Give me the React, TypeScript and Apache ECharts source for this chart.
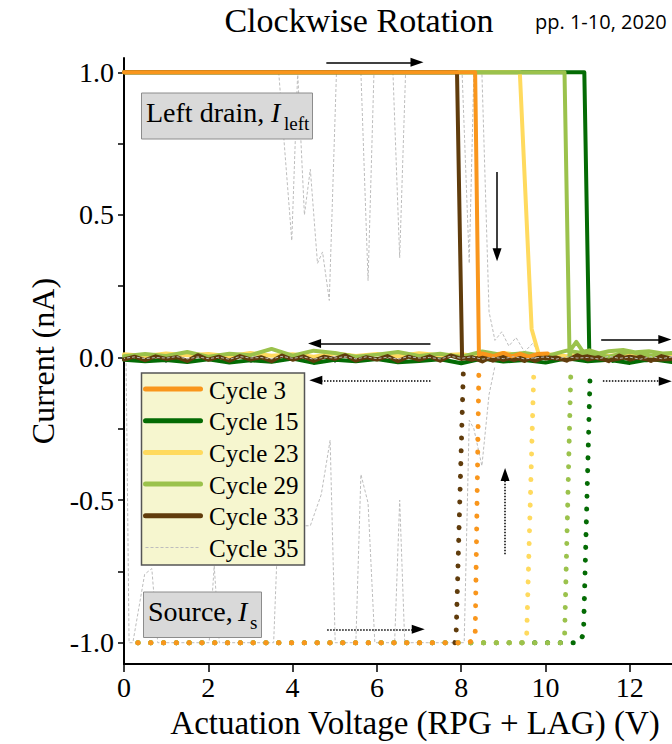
import React, { useEffect, useRef } from 'react';
import * as echarts from 'echarts';

const SERIF = "'Liberation Serif', 'Times New Roman', serif";
const SANS = "'Open Sans', 'Noto Sans', sans-serif";

// ---------- categories / legend ----------
const cycleNames = ['Cycle 3', 'Cycle 15', 'Cycle 23', 'Cycle 29', 'Cycle 33', 'Cycle 35'];
const cycleColors = ['#F9961C', '#046B04', '#FFDA5E', '#9BC24C', '#603C0C', '#BDBDBD'];

// ---------- tick labels ----------
const xMajorTicks = [0, 2, 4, 6, 8, 10, 12];
const xMinorTicks = [1, 3, 5, 7, 9, 11];
const yTicks = [-1, -0.75, -0.5, -0.25, 0, 0.25, 0.5, 0.75, 1];
const yLabels = [-1, -0.5, 0, 0.5, 1];

// sweep voltages of the return (13 V -> 0 V) scans
const returnFine = Array.from({ length: 53 }, (_, i) => 13 - 0.25 * i);
const returnCoarse = Array.from({ length: 27 }, (_, i) => 13 - 0.5 * i);

// ---------- left drain current, forward sweep (V, nA) ----------
const drain3Fwd = [[0, 1], [8.33, 1], [8.42, 0.01], [8.5, 0.014], [8.75, 0.005], [9.0, 0.016], [9.2, 0.004], [9.4, 0.013], [9.6, 0.003], [9.8, 0.012], [10.05, 0.014]];
const drain15Fwd = [[0, 1], [10.92, 1], [11.04, 0.0], [11.3, 0.008], [11.6, -0.012], [12.0, 0.006], [12.4, -0.01], [12.8, 0.003]];
const drain23Fwd = [[0, 1], [9.39, 1], [9.67, 0.1], [9.86, 0.0], [10.1, 0.01], [10.5, 0.002], [11.0, 0.012], [11.5, 0.004], [12.0, 0.011], [12.5, 0.003]];
const drain29Fwd = [[0, 1], [10.45, 1], [10.57, 0.0], [10.61, 0.03], [10.73, 0.055], [10.89, 0.02], [11.04, 0.025], [11.27, 0.014], [11.5, 0.022], [11.84, 0.026], [12.14, 0.018], [12.45, 0.022], [12.78, 0.014]];
const drain33Fwd = [[0, 1], [7.9, 1], [8.02, 0.0], [8.25, -0.008], [8.5, 0.004], [8.75, -0.011], [9.0, 0.003], [9.25, -0.009], [9.5, 0.005], [9.75, -0.012], [10.0, 0.002], [10.5, -0.009], [11.0, 0.004], [11.5, -0.011], [12.0, 0.003], [12.5, -0.009]];
const drain35Fwd = [[0, 1], [3.67, 1], [3.98, 0.41], [4.12, 1], [4.28, 0.5], [4.42, 0.66], [4.59, 0.33], [4.71, 0.37], [4.87, 0.2], [5.04, 1], [5.62, 1], [5.79, 0.27], [5.93, 1], [6.38, 1], [6.54, 0.35], [6.68, 1], [8.02, 1], [8.19, 0.33], [8.3, 1], [8.49, 1], [8.66, 0.16], [8.8, 0.06], [8.96, 0.09], [9.13, 0.04], [9.3, 0.07], [9.5, 0.02], [9.7, 0.05], [9.9, 0.0], [10.5, 0.004], [11.2, -0.003], [12.0, 0.003], [12.6, -0.002], [13, 0.002]];

// ---------- left drain current, return sweep (13 V -> 0 V) ----------
const drain15Ret = [-0.016, -0.005, -0.019, -0.008, -0.013, -0.003, -0.018, -0.009, -0.014, -0.004, -0.020, -0.006, -0.012, -0.017, -0.005, -0.013, -0.008, -0.019, -0.004, -0.015, -0.010, -0.018, -0.006, -0.016, -0.009, -0.013, -0.008];
const drain23Ret = [0.012, 0.003, 0.014, 0.005, 0.015, 0.004, 0.012, 0.006, 0.016, 0.003, 0.011, 0.008, 0.015, 0.004, 0.012, 0.005, 0.014, 0.003, 0.011, 0.006, 0.016, 0.004, 0.012, 0.008, 0.014, 0.005, 0.011];
const drain29Ret = [0.016, 0.005, 0.020, 0.003, 0.013, 0.024, 0.004, 0.016, 0.008, 0.021, 0.002, 0.013, 0.005, 0.019, 0.010, 0.003, 0.016, 0.024, 0.006, 0.030, 0.008, 0.013, 0.003, 0.019, 0.005, 0.012, 0.004];
const drain33Ret = [-0.005, 0.005, -0.012, 0.003, -0.008, 0.007, -0.013, 0.001, -0.007, 0.008, -0.011, 0.000, -0.004, 0.008, -0.012, 0.003, -0.009, 0.005, -0.014, 0.001, -0.005, 0.007, -0.011, 0.004, -0.008, 0.003, -0.013, 0.005, -0.007, 0.001, -0.011, 0.008, -0.005, 0.003, -0.012, 0.004, -0.008, 0.007, -0.013, 0.001, -0.007, 0.005, -0.011, 0.003, -0.008, 0.008, -0.012, 0.001, -0.005, 0.004, -0.009, 0.003, -0.007];
const drain35Ret = [0.002, -0.004, 0.003, -0.006, 0.001, -0.003, 0.004, -0.005, 0.000, -0.002, 0.003, -0.006, 0.002, -0.001, -0.005, 0.003, -0.004, 0.001, -0.006, 0.002, -0.003, 0.004, -0.005, 0.000, -0.002, 0.003, -0.006, 0.001, -0.004, 0.002, -0.005, 0.003, -0.002, 0.001, -0.006, 0.002, -0.003, 0.004, -0.005, 0.000, -0.002, 0.003, -0.006, 0.001, -0.004, 0.002, -0.005, 0.003, -0.002, 0.000, -0.004, 0.002, -0.003];

// ---------- source current, forward sweep (V, nA) ----------
const source3 = [[0.33, -1], [8.18, -1], [8.33, -0.985], [8.42, -0.03]];
const source15 = [[0.33, -1], [10.8, -1], [10.9, -0.97], [11.06, -0.045]];
const source23 = [[0.33, -1], [9.5, -1], [9.55, -0.99], [9.72, -0.06]];
const source29 = [[0.33, -1], [10.42, -1], [10.45, -0.99], [10.6, -0.05]];
const source33 = [[7.85, -1], [7.88, -0.965], [8.05, -0.05]];
const source35 = [[0.05, -0.02], [0.12, -1], [0.21, -1], [0.49, -0.76], [0.66, -0.74], [0.8, -1], [2.02, -1], [2.14, -0.73], [2.26, -1], [3.55, -1], [3.62, -0.73], [3.9, -0.7], [4.26, -0.59], [4.42, -0.59], [4.68, -0.48], [4.89, -0.29], [5.01, -1], [5.5, -1], [5.62, -0.41], [5.79, -0.51], [5.95, -1], [6.42, -1], [6.54, -0.5], [6.66, -1], [8.07, -1], [8.19, -0.22], [8.3, -0.25], [8.49, -0.38], [8.66, -0.13], [8.8, -0.03]];

// ---------- sweep-direction arrows (data coordinates) ----------
const solidArrows = [
  [[4.8, 1.035], [6.95, 1.035]],
  [[8.85, 0.65], [8.85, 0.36]],
  [[11.32, 0.063], [12.83, 0.063]],
  [[7.27, 0.049], [4.52, 0.049]],
];
const dottedArrows = [
  [[7.27, -0.08], [4.55, -0.08]],
  [[11.36, -0.083], [12.84, -0.083]],
  [[4.82, -0.953], [6.98, -0.953]],
  [[9.04, -0.69], [9.04, -0.41]],
];

const withReturn = (fwd: number[][], xs: number[], ys: number[]) =>
  fwd.concat(ys.map((y, i) => [xs[i], y]));

export default function App() {
  const ref = useRef<HTMLDivElement>(null);

  useEffect(() => {
    if (!ref.current) return;
    const chart = echarts.init(ref.current, null, { renderer: 'svg' });

    const C = cycleColors;
    const solid = (name: string, color: string, data: number[][], z = 2) => ({
      type: 'line', name, data, z, showSymbol: false, symbol: 'none', silent: true,
      lineStyle: { color, width: 4, cap: 'round', join: 'round' },
    });
    const dotted = (name: string, color: string, data: number[][]) => ({
      type: 'line', name, data, z: 2, showSymbol: false, symbol: 'none', silent: true,
      lineStyle: { color, width: 5, type: [0.1, 12.7], cap: 'round' },
    });
    const gray = (name: string, data: number[][], z: number) => ({
      type: 'line', name, data, z, showSymbol: false, symbol: 'none', silent: true,
      lineStyle: { color: C[5], width: 1, type: [3, 2] },
    });
    const arrows = (name: string, list: number[][][], type: any) => ({
      type: 'line', name, data: [], z: 5, silent: true,
      markLine: {
        silent: true, animation: false,
        symbol: ['none', 'triangle'], symbolSize: [9, 13],
        label: { show: false },
        lineStyle: { color: '#000', width: 1.5, type },
        emphasis: { disabled: true },
        data: list.map(([a, b]) => [{ coord: a }, { coord: b }]),
      },
    });

    const legendTop = 389;
    const legendStep = 31.7;
    const legendItems: any[] = [];
    cycleNames.forEach((n, i) => {
      const y = legendTop + legendStep * i;
      legendItems.push({
        type: 'line', z: 101,
        shape: { x1: 145.5, y1: y, x2: 200.5, y2: y },
        style: i === 5
          ? { stroke: C[i], lineWidth: 1, lineDash: [3, 2] }
          : { stroke: C[i], lineWidth: 5, lineCap: 'round' },
      });
      legendItems.push({
        type: 'text', z: 101, x: 209, y: y + 1,
        style: { text: n, fontSize: 25, fontFamily: SERIF, fill: '#000', align: 'left', verticalAlign: 'middle' },
      });
    });

    const tickFont = { fontSize: 28, fontFamily: SERIF, fontWeight: 'normal', color: '#000' };

    const option: any = {
      animation: false,
      backgroundColor: '#fff',
      textStyle: { fontFamily: SERIF, color: '#000' },
      grid: { left: 124, top: 58, right: -4.5, bottom: 76, containLabel: false },
      xAxis: [
        {
          type: 'value', min: 0, max: 13, position: 'bottom',
          name: 'Actuation Voltage (RPG + LAG) (V)', nameLocation: 'middle', nameGap: 35,
          nameTextStyle: { fontSize: 33, fontFamily: SERIF, color: '#000', padding: [0, 0, 0, 34] },
          axisLine: { show: true, onZero: false, lineStyle: { color: '#000', width: 2 } },
          axisTick: { show: true, customValues: xMajorTicks, length: 8, lineStyle: { color: '#000', width: 1.5 } },
          axisLabel: { customValues: xMajorTicks, margin: 9, ...tickFont },
          splitLine: { show: false },
        },
        {
          type: 'value', min: 0, max: 13, position: 'bottom',
          axisLine: { show: false },
          axisTick: { show: true, customValues: xMinorTicks, length: 5, lineStyle: { color: '#000', width: 1.5 } },
          axisLabel: { show: false },
          splitLine: { show: false },
        },
      ],
      yAxis: {
        type: 'value', min: -1.075, max: 1.05,
        name: 'Current (nA)', nameLocation: 'middle', nameGap: 62, nameRotate: 90,
        nameTextStyle: { fontSize: 32, fontFamily: SERIF, color: '#000' },
        axisLine: { show: true, onZero: false, lineStyle: { color: '#000', width: 2 } },
        axisTick: { show: true, customValues: yTicks, length: 6, lineStyle: { color: '#000', width: 1.5 } },
        axisLabel: {
          customValues: yLabels, margin: 10, ...tickFont,
          formatter: (v: number) => v.toFixed(1),
        },
        splitLine: { show: false },
      },
      series: [
        gray('Cycle 35', drain35Fwd, 1),
        gray('Cycle 35 source', source35, 1),
        dotted('Cycle 15 source', C[1], source15),
        dotted('Cycle 23 source', C[2], source23),
        dotted('Cycle 29 source', C[3], source29),
        dotted('Cycle 33 source', C[4], source33),
        dotted('Cycle 3 source', C[0], source3),
        solid('Cycle 15', C[1], withReturn(drain15Fwd, returnCoarse, drain15Ret)),
        solid('Cycle 23', C[2], withReturn(drain23Fwd, returnCoarse, drain23Ret)),
        solid('Cycle 29', C[3], withReturn(drain29Fwd, returnCoarse, drain29Ret)),
        solid('Cycle 33', C[4], withReturn(drain33Fwd, returnFine, drain33Ret)),
        solid('Cycle 3', C[0], drain3Fwd),
        gray('Cycle 35 return', returnFine.map((x, i) => [x, drain35Ret[i]]), 3),
        arrows('solid arrows', solidArrows, 'solid'),
        arrows('dotted arrows', dottedArrows, 'dotted'),
      ],
      graphic: [
        {
          type: 'text', z: 100, x: 359, y: 20,
          style: { text: 'Clockwise Rotation', fontSize: 34, fontFamily: SERIF, fill: '#000', align: 'center', verticalAlign: 'middle' },
        },
        {
          type: 'text', z: 100, x: 535, y: 21,
          style: { text: 'pp. 1-10, 2020', fontSize: 20, fontFamily: SANS, fill: '#000', align: 'left', verticalAlign: 'middle' },
        },
        // Left drain label
        {
          type: 'rect', z: 100, shape: { x: 141.5, y: 93, width: 171, height: 46 },
          style: { fill: '#D9D9D9', stroke: '#8C8C8C', lineWidth: 1 },
        },
        {
          type: 'text', z: 101, x: 146, y: 112,
          style: { text: 'Left drain,', fontSize: 28, fontFamily: SERIF, fill: '#000', align: 'left', verticalAlign: 'middle' },
        },
        {
          type: 'text', z: 101, x: 271, y: 112,
          style: { text: 'I', fontSize: 28, fontStyle: 'italic', fontFamily: SERIF, fill: '#000', align: 'left', verticalAlign: 'middle' },
        },
        {
          type: 'text', z: 101, x: 284, y: 123,
          style: { text: 'left', fontSize: 19, fontFamily: SERIF, fill: '#000', align: 'left', verticalAlign: 'middle' },
        },
        // Source label
        {
          type: 'rect', z: 100, shape: { x: 143.5, y: 592, width: 118, height: 45.5 },
          style: { fill: '#D9D9D9', stroke: '#8C8C8C', lineWidth: 1 },
        },
        {
          type: 'text', z: 101, x: 148, y: 611,
          style: { text: 'Source,', fontSize: 28, fontFamily: SERIF, fill: '#000', align: 'left', verticalAlign: 'middle' },
        },
        {
          type: 'text', z: 101, x: 238, y: 611,
          style: { text: 'I', fontSize: 28, fontStyle: 'italic', fontFamily: SERIF, fill: '#000', align: 'left', verticalAlign: 'middle' },
        },
        {
          type: 'text', z: 101, x: 250, y: 622,
          style: { text: 's', fontSize: 19, fontFamily: SERIF, fill: '#000', align: 'left', verticalAlign: 'middle' },
        },
        // Legend
        {
          type: 'rect', z: 100, shape: { x: 141.5, y: 373, width: 163, height: 192 },
          style: { fill: '#F6F6CF', stroke: '#555555', lineWidth: 1.5 },
        },
        ...legendItems,
      ],
    };

    chart.setOption(option);
    return () => chart.dispose();
  }, []);

  return (
    <div
      ref={ref}
      style={{ position: 'fixed', left: 0, top: 0, width: 672, height: 744, background: '#fff' }}
    />
  );
}
